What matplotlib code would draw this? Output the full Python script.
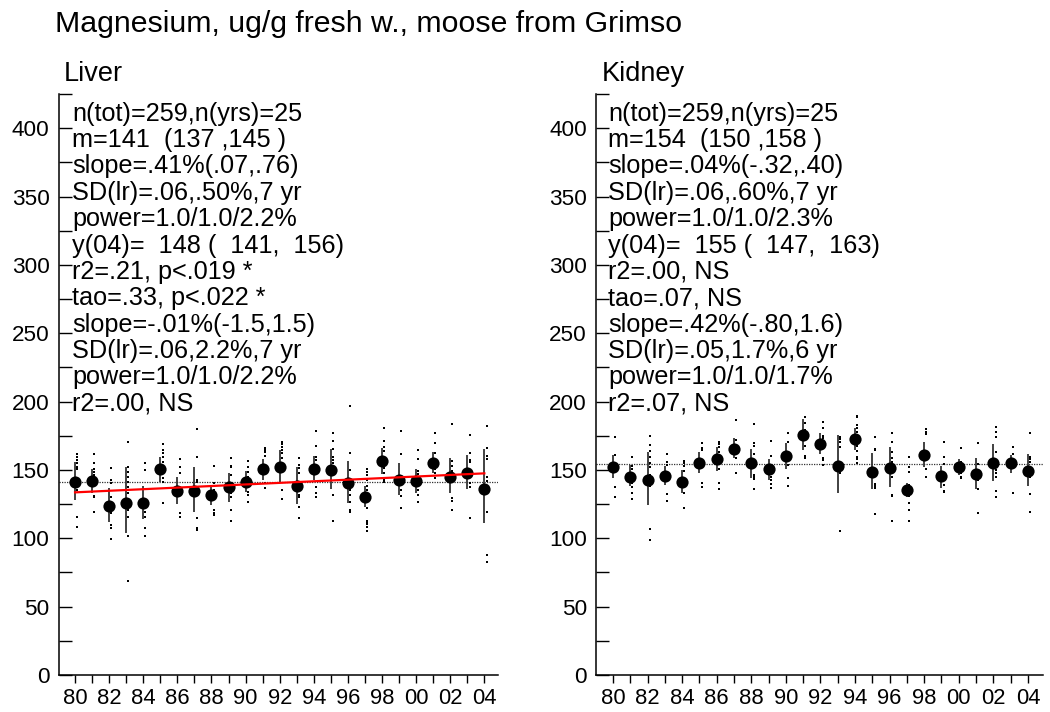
#!/usr/bin/env python3
"""Magnesium in moose liver and kidney, Grimso, yearly means 1980-2004."""
import matplotlib

matplotlib.use("Agg")
import matplotlib.pyplot as plt
from matplotlib.ticker import MultipleLocator, FixedLocator, NullFormatter
import numpy as np

plt.rcParams["font.family"] = ["Liberation Sans", "DejaVu Sans"]

YEARS = list(range(1980, 2005))

# --- liver ---
LIVER_MEAN = [140.9, 142.1, 123.8, 126.0, 126.0, 150.4, 134.8, 134.8, 131.6, 137.2,
              141.4, 150.4, 152.3, 138.2, 150.6, 149.9, 140.2, 130.4, 156.7, 142.6,
              142.1, 155.3, 144.5, 147.5, 135.8]
LIVER_LO = [128.0, 133.0, 112.0, 104.0, 114.0, 141.4, 125.0, 119.4, 124.0, 126.7,
            134.0, 142.6, 141.4, 125.0, 142.6, 135.8, 125.5, 123.0, 147.0, 131.6,
            133.0, 148.0, 133.0, 135.8, 111.4]
LIVER_HI = [156.0, 151.0, 136.5, 152.0, 138.0, 159.6, 145.0, 152.0, 139.0, 148.0,
            149.4, 157.7, 164.5, 152.3, 160.0, 165.0, 156.5, 138.2, 165.8, 154.8,
            151.0, 163.3, 158.5, 160.9, 165.3]
LIVER_POINTS = [
    [161.6, 159.2, 157.2, 154.8, 151.8, 150.4, 140.0, 135.3, 115.8, 108.5],
    [161.6, 154.8, 150.4, 148.7, 146.0, 131.0, 130.0, 119.4],
    [151.6, 142.6, 140.1, 130.0, 118.2, 109.7, 107.2, 99.2],
    [170.6, 151.8, 148.7, 145.0, 141.4, 137.7, 133.3, 120.6, 115.8, 101.6, 68.7],
    [154.8, 149.9, 126.0, 119.4, 115.8, 107.2, 101.6],
    [168.9, 164.5, 162.1, 159.6, 156.0, 152.3, 147.5, 143.8, 141.4, 125.5],
    [157.7, 151.8, 147.5, 136.5, 132.0, 118.2, 115.8],
    [179.6, 159.6, 142.6, 141.0, 114.5, 107.2, 106.0],
    [152.8, 140.1, 135.3, 120.6, 118.7, 117.0],
    [158.4, 152.8, 152.3, 146.2, 132.8, 130.4, 120.6, 112.6],
    [156.7, 151.8, 148.7, 145.0, 142.6, 137.7, 134.0, 131.6, 126.2],
    [165.7, 164.5, 163.3, 160.1, 140.1, 136.5],
    [170.6, 169.0, 167.0, 164.5, 162.1, 158.4, 135.3, 128.4],
    [158.4, 153.5, 151.1, 147.5, 131.6, 130.0, 123.1, 114.5],
    [178.6, 167.4, 159.6, 157.2, 153.5, 137.7, 132.8, 129.9],
    [176.7, 171.3, 165.2, 159.6, 157.2, 154.8, 147.5, 131.6, 112.8],
    [196.7, 162.6, 149.9, 142.6, 135.3, 131.6, 126.7, 120.6, 119.0],
    [150.4, 148.7, 146.2, 142.6, 138.2, 135.3, 131.6, 122.3, 112.8, 112.1, 110.4, 108.5, 105.5],
    [180.8, 171.3, 167.0, 163.8, 151.1, 147.9, 143.0, 141.4],
    [178.6, 161.6, 142.6, 135.3, 130.9, 121.9],
    [164.5, 157.7, 149.4, 146.7, 142.6, 138.2, 135.3, 131.6, 126.7],
    [176.7, 169.4, 162.6, 157.7, 150.4, 147.5, 144.3],
    [183.5, 156.7, 152.8, 149.4, 129.2, 127.5, 120.6],
    [175.5, 162.6, 157.2, 156.0, 140.6, 140.1, 137.2, 114.5],
    [182.5, 165.7, 160.1, 157.9, 144.5, 142.1, 119.4, 87.7, 82.4],
]
LIVER_M = 141
LIVER_TREND_YEARS = [1980, 2004]
LIVER_TREND = [133.6, 147.5]
LIVER_STATS = [
    "n(tot)=259,n(yrs)=25",
    "m=141  (137 ,145 )",
    "slope=.41%(.07,.76)",
    "SD(lr)=.06,.50%,7 yr",
    "power=1.0/1.0/2.2%",
    "y(04)=  148 (  141,  156)",
    "r2=.21, p<.019 *",
    "tao=.33, p<.022 *",
    "slope=-.01%(-1.5,1.5)",
    "SD(lr)=.06,2.2%,7 yr",
    "power=1.0/1.0/2.2%",
    "r2=.00, NS",
]

# --- kidney ---
KIDNEY_MEAN = [152.3, 145.0, 142.6, 145.7, 141.4, 154.8, 157.7, 165.2, 154.8, 150.6,
               160.1, 175.5, 168.9, 153.1, 172.3, 148.7, 151.6, 135.3, 160.9, 145.5,
               152.3, 147.0, 155.3, 155.3, 149.4]
KIDNEY_LO = [143.8, 138.2, 124.3, 138.9, 133.3, 147.5, 149.4, 158.4, 143.8, 142.6,
             150.4, 164.5, 161.6, 132.8, 164.5, 135.8, 137.2, 129.9, 151.8, 136.5,
             146.2, 135.8, 142.1, 147.9, 138.2]
KIDNEY_HI = [160.9, 153.5, 163.3, 152.8, 149.9, 163.3, 167.0, 173.0, 165.0, 157.7,
             169.9, 186.9, 176.7, 175.5, 180.4, 162.1, 166.5, 140.1, 170.6, 152.8,
             157.7, 158.4, 168.9, 160.9, 161.6]
KIDNEY_POINTS = [
    [173.8, 160.9, 137.7, 130.4],
    [159.2, 152.8, 150.4, 147.5, 140.6, 137.7, 132.8, 128.4],
    [174.7, 168.2, 164.0, 159.2, 154.8, 151.8, 146.2, 138.2, 106.5, 98.7],
    [161.6, 156.0, 153.5, 145.0, 132.3, 127.5],
    [156.7, 154.8, 152.8, 149.4, 132.8, 121.9],
    [169.4, 165.7, 164.8, 140.1, 137.2],
    [170.6, 168.9, 167.0, 163.3, 150.4, 140.1, 135.7],
    [186.4, 171.8, 158.4, 147.5],
    [183.5, 169.9, 167.4, 161.6, 146.2, 145.0, 143.1, 135.7],
    [171.3, 160.1, 153.5, 145.0, 142.6, 139.6, 136.5],
    [177.2, 170.6, 163.3, 159.6, 153.5, 144.3, 138.4],
    [188.4, 184.5, 179.1, 167.4, 160.1, 158.4],
    [185.2, 180.4, 174.7, 173.0, 158.4, 157.5, 153.5],
    [174.3, 172.3, 170.6, 167.0, 147.5, 105.5],
    [189.4, 188.4, 182.8, 180.4, 177.9, 167.4, 164.0, 159.6, 157.7, 155.3],
    [173.8, 165.0, 164.5, 139.6, 138.2, 136.5, 117.5],
    [176.7, 170.6, 163.3, 158.4, 156.0, 144.5, 131.6, 130.8, 112.6],
    [159.6, 151.8, 148.7, 138.9, 131.6, 130.8, 125.5, 120.6, 112.6],
    [179.6, 177.9, 176.2, 162.6, 160.9, 150.4, 144.5],
    [170.6, 159.6, 154.3, 138.9, 134.8, 134.0, 133.5],
    [165.7, 156.0, 151.1, 147.5, 144.5, 143.8],
    [169.4, 154.3, 142.6, 135.7, 118.7],
    [181.6, 177.9, 173.8, 163.3, 152.3, 149.9, 147.5, 145.0, 134.8, 129.9],
    [166.5, 161.6, 157.2, 154.8, 133.3],
    [176.7, 159.6, 157.7, 156.0, 149.9, 144.5, 132.3, 119.4],
]
KIDNEY_M = 154
KIDNEY_STATS = [
    "n(tot)=259,n(yrs)=25",
    "m=154  (150 ,158 )",
    "slope=.04%(-.32,.40)",
    "SD(lr)=.06,.60%,7 yr",
    "power=1.0/1.0/2.3%",
    "y(04)=  155 (  147,  163)",
    "r2=.00, NS",
    "tao=.07, NS",
    "slope=.42%(-.80,1.6)",
    "SD(lr)=.05,1.7%,6 yr",
    "power=1.0/1.0/1.7%",
    "r2=.07, NS",
]

W, H = 1050, 712


def style_axis(ax, xlim):
    ax.set_xlim(*xlim)
    ax.set_ylim(0, 425)
    for side in ("top", "right"):
        ax.spines[side].set_visible(False)
    for side in ("left", "bottom"):
        ax.spines[side].set_linewidth(1.1)
    ax.yaxis.set_major_locator(MultipleLocator(50))
    ax.yaxis.set_minor_locator(MultipleLocator(25))
    ax.tick_params(axis="y", which="both", direction="in", length=9.5, width=1.0,
                   labelsize=16.2, pad=6.5)
    ax.xaxis.set_major_locator(FixedLocator(YEARS[::2]))
    ax.xaxis.set_minor_locator(FixedLocator(YEARS))
    ax.xaxis.set_minor_formatter(NullFormatter())
    ax.set_xticklabels([f"{y % 100:02d}" for y in YEARS[::2]])
    ax.tick_params(axis="x", which="both", direction="out", length=6, width=1.0,
                   labelsize=15.8, pad=3)


def draw_panel(ax, means, lo, hi, points, m):
    ax.axhline(m, color="#333333", lw=0.9, ls=(0, (1, 1)), zorder=1)
    for yr, vals in zip(YEARS, points):
        ax.plot(np.full(len(vals), yr + 0.13), vals, ls="none", marker="s",
                ms=1.7, color="black", mew=0, zorder=2)
    ax.vlines(YEARS, lo, hi, color="#333333", lw=1.3, zorder=3)
    ax.plot(YEARS, means, ls="none", marker="o", ms=8.8, color="black",
            mew=0, zorder=4)


def add_stats(fig, lines, x_px):
    for i, line in enumerate(lines):
        y_px = 120.5 + 26.4 * i
        fig.text(x_px / W, 1 - y_px / H, line, fontsize=18.2, va="baseline",
                 ha="left")


def main():
    fig = plt.figure(figsize=(W / 100, H / 100), dpi=100)
    bottom, top = 37 / H, (675 - 94) / H

    ax_l = fig.add_axes([58.5 / W, bottom, (498 - 58.5) / W, top])
    style_axis(ax_l, (1979.03, 2004.8))
    draw_panel(ax_l, LIVER_MEAN, LIVER_LO, LIVER_HI, LIVER_POINTS, LIVER_M)
    ax_l.plot(LIVER_TREND_YEARS, LIVER_TREND, color="#ff0000", lw=1.6, zorder=5)

    ax_r = fig.add_axes([596 / W, bottom, (1043 - 596) / W, top])
    style_axis(ax_r, (1979.02, 2004.87))
    draw_panel(ax_r, KIDNEY_MEAN, KIDNEY_LO, KIDNEY_HI, KIDNEY_POINTS, KIDNEY_M)

    fig.text(55 / W, 1 - 32.5 / H, "Magnesium, ug/g fresh w., moose from Grimso",
             fontsize=21.8, va="baseline")
    fig.text(64 / W, 1 - 81 / H, "Liver", fontsize=19.5, va="baseline")
    fig.text(601.5 / W, 1 - 81 / H, "Kidney", fontsize=19.5, va="baseline")
    add_stats(fig, LIVER_STATS, 72)
    add_stats(fig, KIDNEY_STATS, 608.5)

    fig.savefig("out.png", dpi=100)
    plt.close(fig)


if __name__ == "__main__":
    main()
